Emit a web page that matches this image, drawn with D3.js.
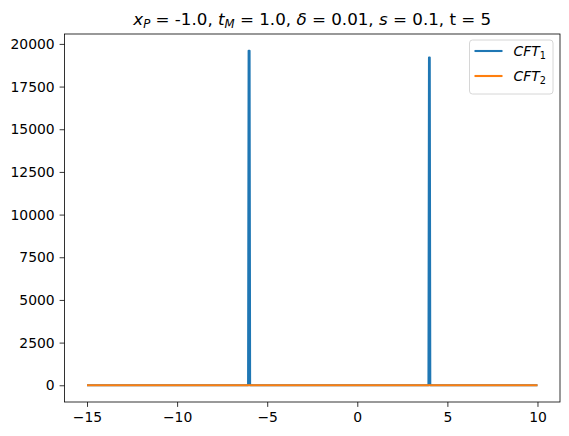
<!DOCTYPE html>
<html>
<head>
<meta charset="utf-8">
<script src="https://cdn.jsdelivr.net/npm/d3@7"></script>
<style>
  body { margin: 0; background: #fff; }
  text { font-family: "DejaVu Sans", sans-serif; }
</style>
</head>
<body>
<div id="chart"></div>
<script>
// series data
const cft1X = [-15, -6.06, -6.03, -5.98, -5.95, 3.95, 3.98, 4.02, 4.05, 10];
const cft1Y = [0, 0, 19600, 19600, 0, 0, 19200, 19200, 0, 0];
const cft2X = [-15, -6, 4, 10];
const cft2Y = [0, 0, 0, 0];

const xTicks = [-15, -10, -5, 0, 5, 10];
const yTicks = [0, 2500, 5000, 7500, 10000, 12500, 15000, 17500, 20000];

const svgWidth = 569;
const svgHeight = 436;
const margin = { top: 34, right: 9, bottom: 34, left: 64.5 };
const width = svgWidth - margin.left - margin.right;
const height = svgHeight - margin.top - margin.bottom;

const svg = d3.select("#chart").append("svg")
  .attr("width", svgWidth)
  .attr("height", svgHeight);

const chartGroup = svg.append("g")
  .attr("transform", `translate(${margin.left}, ${margin.top})`);

// 5% margins like matplotlib
const xScale = d3.scaleLinear().domain([-16.25, 11.25]).range([0, width]);
const yScale = d3.scaleLinear().domain([-980, 20580]).range([height, 0]);

const minus = s => String(s).replace("-", "\u2212");

const xAxis = chartGroup.append("g")
  .attr("transform", `translate(0, ${height})`)
  .call(d3.axisBottom(xScale).tickValues(xTicks).tickSize(4.9).tickPadding(4.9).tickFormat(minus));

const yAxis = chartGroup.append("g")
  .call(d3.axisLeft(yScale).tickValues(yTicks).tickSize(4.9).tickPadding(4.9).tickFormat(d => d));

[xAxis, yAxis].forEach(ax => {
  ax.select(".domain").remove();
  ax.selectAll("line").attr("stroke", "#000").attr("stroke-width", 0.8);
  ax.selectAll("text")
    .attr("fill", "#000")
    .style("font-size", "13.9px")
    .style("font-family", "DejaVu Sans");
});

// lines
const line = d3.line().x(d => xScale(d[0])).y(d => yScale(d[1]));
const plot = chartGroup.append("g");

plot.append("path")
  .datum(cft1X.map((x, i) => [x, cft1Y[i]]))
  .attr("d", line)
  .attr("fill", "none")
  .attr("stroke", "#1f77b4")
  .attr("stroke-width", 2.1)
  .attr("stroke-linejoin", "round");

plot.append("path")
  .datum(cft2X.map((x, i) => [x, cft2Y[i]]))
  .attr("d", line)
  .attr("fill", "none")
  .attr("stroke", "#ff7f0e")
  .attr("stroke-width", 2.1);

// frame
chartGroup.append("rect")
  .attr("width", width)
  .attr("height", height)
  .attr("fill", "none")
  .attr("stroke", "#000")
  .attr("stroke-width", 0.8);

// title
const title = svg.append("text")
  .attr("x", margin.left + width / 2)
  .attr("y", 25)
  .attr("text-anchor", "middle")
  .style("font-size", "16.7px");

const parts = [
  ["x", "italic", 0], ["P", "italic", 1], [" = -1.0, ", "normal", -1],
  ["t", "italic", 0], ["M", "italic", 1], [" = 1.0, ", "normal", -1],
  ["\u03b4", "italic", 0], [" = 0.01, ", "normal", 0],
  ["s", "italic", 0], [" = 0.1, t = 5", "normal", 0]
];
parts.forEach(p => {
  const t = title.append("tspan")
    .text(p[0])
    .style("font-style", p[1]);
  if (p[2] === 1) t.attr("dy", 3).style("font-size", "11.7px");
  if (p[2] === -1) t.attr("dy", -3);
});

// legend
const legend = chartGroup.append("g")
  .attr("transform", `translate(${width - 90.5}, 6)`);

legend.append("rect")
  .attr("width", 83.5)
  .attr("height", 54)
  .attr("rx", 3)
  .attr("fill", "#fff")
  .attr("fill-opacity", 0.8)
  .attr("stroke", "#ccc")
  .attr("stroke-width", 0.8);

const legendItems = [["#1f77b4", "1"], ["#ff7f0e", "2"]];
legendItems.forEach((d, i) => {
  const y = 11 + i * 25;
  legend.append("line")
    .attr("x1", 5).attr("x2", 33)
    .attr("y1", y).attr("y2", y)
    .attr("stroke", d[0])
    .attr("stroke-width", 2.1);
  const t = legend.append("text")
    .attr("x", 44)
    .attr("y", y + 5)
    .style("font-size", "13.9px")
    .style("font-style", "italic");
  t.append("tspan").text("CFT");
  t.append("tspan").text(d[1]).attr("dy", 3).style("font-size", "9.7px").style("font-style", "normal");
});
</script>
</body>
</html>
